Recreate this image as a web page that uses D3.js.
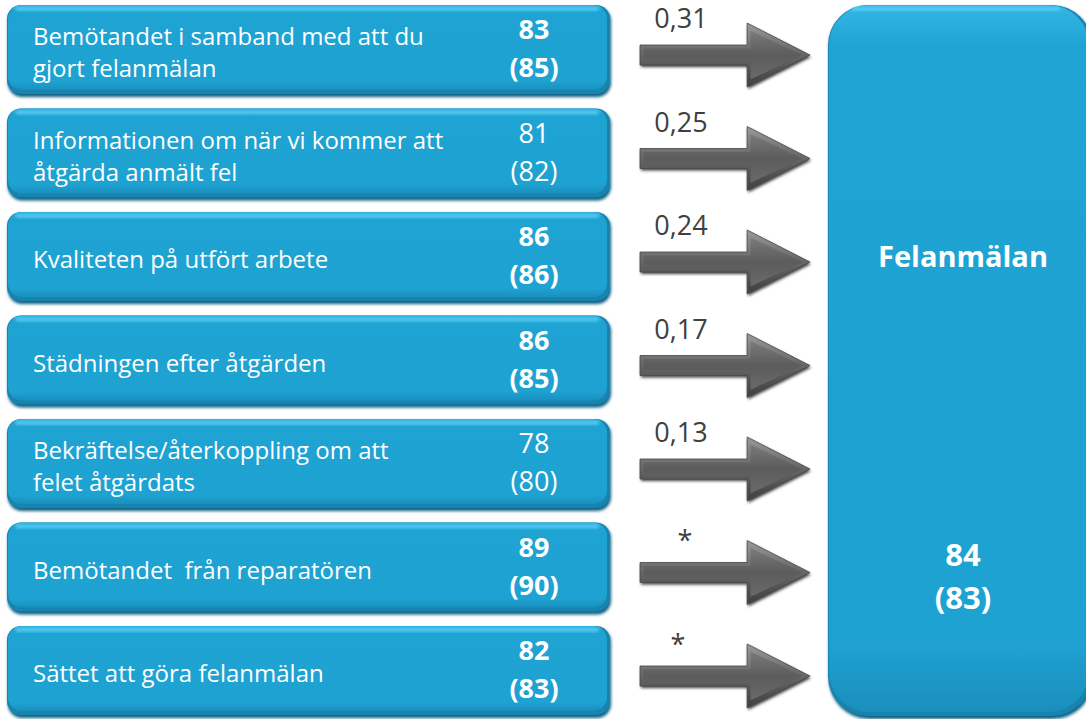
<!DOCTYPE html>
<html>
<head>
<meta charset="utf-8">
<script src="https://cdn.jsdelivr.net/npm/d3@7"></script>
<style>
  body { margin: 0; background: #fff; }
  svg { display: block; }
  text { font-family: "Open Sans", sans-serif; white-space: pre; }
</style>
</head>
<body>
<div id="container"></div>
<script>
// ---- data
var factors = [
  ["Bemötandet i samband med att du", "gjort felanmälan"],
  ["Informationen om när vi kommer att", "åtgärda anmält fel"],
  ["Kvaliteten på utfört arbete"],
  ["Städningen efter åtgärden"],
  ["Bekräftelse/återkoppling om att", "felet åtgärdats"],
  ["Bemötandet  från reparatören"],
  ["Sättet att göra felanmälan"]
];
var scores     = [83, 81, 86, 86, 78, 89, 82];
var prevScores = [85, 82, 86, 85, 80, 90, 83];
var boldScore  = [true, false, true, true, false, true, true];
var weights    = ["0,31", "0,25", "0,24", "0,17", "0,13", "*", "*"];
var targetName = "Felanmälan";
var targetScore = 84;
var targetPrev  = 83;

var gWidth = 1086, gHeight = 719;

var svg = d3.select("#container").append("svg")
  .attr("width", gWidth).attr("height", gHeight);

var defs = svg.append("defs");

// blue box gradient
var blue = defs.append("linearGradient").attr("id", "blueGrad")
  .attr("x1", 0).attr("y1", 0).attr("x2", 0).attr("y2", 1);
blue.append("stop").attr("offset", "0%").attr("stop-color", "#34b6e4");
blue.append("stop").attr("offset", "6%").attr("stop-color", "#1ea3d3");
blue.append("stop").attr("offset", "90%").attr("stop-color", "#1ea2d2");
blue.append("stop").attr("offset", "100%").attr("stop-color", "#1a8fbd");

// gray arrow gradients (outer rim and inner face)
var gray = defs.append("linearGradient").attr("id", "grayGrad")
  .attr("x1", 0).attr("y1", 0).attr("x2", 0).attr("y2", 1);
gray.append("stop").attr("offset", "0%").attr("stop-color", "#9a9a9a");
gray.append("stop").attr("offset", "45%").attr("stop-color", "#6a6a6a");
gray.append("stop").attr("offset", "100%").attr("stop-color", "#3e3e3e");

var face = defs.append("linearGradient").attr("id", "faceGrad")
  .attr("x1", 0).attr("y1", 0).attr("x2", 0).attr("y2", 1);
face.append("stop").attr("offset", "0%").attr("stop-color", "#7a7a7a");
face.append("stop").attr("offset", "50%").attr("stop-color", "#5c5c5c");
face.append("stop").attr("offset", "100%").attr("stop-color", "#6a6a6a");

var blur = defs.append("filter").attr("id", "soft")
  .attr("x", "-10%").attr("y", "-10%").attr("width", "120%").attr("height", "130%");
blur.append("feGaussianBlur").attr("stdDeviation", 1.6);

// ---- scales
var y = d3.scaleBand()
  .domain(d3.range(factors.length))
  .range([5, 716])
  .paddingInner(0.13)
  .paddingOuter(0);

var x = d3.scaleLinear().domain([0, 1]).range([7, 610]); // factor boxes
var arrowX = d3.scaleLinear().domain([0, 1]).range([640, 810]);
var bigX = d3.scaleLinear().domain([0, 1]).range([828, 1086]);

function bevelBox(g, x0, y0, w, h, r) {
  // dark shadow edge
  g.append("rect")
    .attr("x", x0 + 1).attr("y", y0 + 2)
    .attr("width", w).attr("height", h)
    .attr("rx", r).attr("ry", r)
    .attr("fill", "#0c6184")
    .attr("filter", "url(#soft)");
  g.append("rect")
    .attr("x", x0).attr("y", y0)
    .attr("width", w).attr("height", h - 1)
    .attr("rx", r).attr("ry", r)
    .attr("fill", "#1784b0");
  g.append("rect")
    .attr("x", x0 + 1).attr("y", y0)
    .attr("width", w - 4).attr("height", h - 5)
    .attr("rx", r).attr("ry", r)
    .attr("fill", "url(#blueGrad)");
  // top highlight
  g.append("rect")
    .attr("x", x0 + r * 0.6).attr("y", y0 + 2)
    .attr("width", w - r * 1.4).attr("height", 4)
    .attr("rx", 2)
    .attr("fill", "#5fd3f7")
    .attr("opacity", 0.8)
    .attr("filter", "url(#soft)");
}

// ---- factor boxes
var rows = svg.selectAll(".row").data(factors).enter().append("g")
  .attr("class", "row");

rows.each(function(d, i) {
  var g = d3.select(this);
  var top = y(i), h = y.bandwidth();
  bevelBox(g, x(0), top, x(1) - x(0), h, 14);

  var cy = top + h / 2 + 3;
  var lineH = 32;
  var startY = cy - (d.length - 1) * lineH / 2;
  g.selectAll(".lbl").data(d).enter().append("text")
    .attr("class", "lbl")
    .attr("x", 33)
    .attr("y", function(t, k) { return startY + k * lineH; })
    .attr("dy", "0.35em")
    .attr("fill", "#ffffff")
    .style("font-size", "24px")
    .text(function(t) { return t; });

  g.selectAll(".val").data([scores[i], "(" + prevScores[i] + ")"]).enter().append("text")
    .attr("class", "val")
    .attr("x", 534)
    .attr("y", function(t, k) { return top + h / 2 - 20 + k * 38; })
    .attr("dy", "0.35em")
    .attr("text-anchor", "middle")
    .attr("fill", "#ffffff")
    .style("font-size", "27px")
    .style("font-weight", boldScore[i] ? "bold" : "normal")
    .text(function(t) { return t; });
});

// ---- arrows
function arrowPath(cy, inset) {
  var s = inset || 0;
  var x0 = arrowX(0) + s, x1 = arrowX(1) - s * 2.2, xh = arrowX(0.63) + s;
  var sh = 10 - s, hh = 32 - s * 2.2;
  return "M" + x0 + "," + (cy - sh) +
    "L" + xh + "," + (cy - sh) +
    "L" + xh + "," + (cy - hh) +
    "L" + x1 + "," + cy +
    "L" + xh + "," + (cy + hh) +
    "L" + xh + "," + (cy + sh) +
    "L" + x0 + "," + (cy + sh) + "Z";
}
function arrowY(i) { return y(i) + y.bandwidth() / 2 + 5; }

var arrows = svg.selectAll(".arrow").data(weights).enter().append("g")
  .attr("class", "arrow");

arrows.append("path")
  .attr("d", function(d, i) { return arrowPath(arrowY(i)); })
  .attr("fill", "#3f3f3f")
  .attr("transform", "translate(1,2)")
  .attr("filter", "url(#soft)");
arrows.append("path")
  .attr("d", function(d, i) { return arrowPath(arrowY(i)); })
  .attr("fill", "url(#grayGrad)")
  .attr("stroke", "#4a4a4a")
  .attr("stroke-width", 0.8);
arrows.append("path")
  .attr("d", function(d, i) { return arrowPath(arrowY(i), 3.5); })
  .attr("fill", "url(#faceGrad)");

arrows.append("text")
  .attr("x", function(d, i) { return d === "*" ? (i === 5 ? 685 : 678) : 681; })
  .attr("y", function(d, i) { return arrowY(i) + (d === "*" ? -22 : -27); })
  .attr("text-anchor", "middle")
  .attr("fill", "#404040")
  .style("font-size", "27px")
  .text(function(d) { return d; });

// ---- target box
var big = svg.append("g");
bevelBox(big, bigX(0), 5, bigX(1) - bigX(0) + 6, 712, 40);

var bigCx = (bigX(0) + bigX(1)) / 2 + 6;
big.append("text")
  .attr("x", bigCx)
  .attr("y", 257)
  .attr("dy", "0.35em")
  .attr("text-anchor", "middle")
  .attr("fill", "#ffffff")
  .style("font-size", "29px")
  .style("font-weight", "bold")
  .text(targetName);

big.selectAll(".tval").data([targetScore, "(" + targetPrev + ")"]).enter().append("text")
  .attr("class", "tval")
  .attr("x", bigCx)
  .attr("y", function(d, k) { return 555 + k * 43; })
  .attr("dy", "0.35em")
  .attr("text-anchor", "middle")
  .attr("fill", "#ffffff")
  .style("font-size", "31px")
  .style("font-weight", "bold")
  .text(function(d) { return d; });
</script>
</body>
</html>
